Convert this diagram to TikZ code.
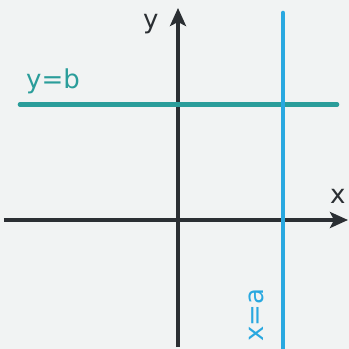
\documentclass[tikz,border=0pt]{standalone}
\usepackage{fontspec}
\setmainfont{DejaVu Sans}
\usetikzlibrary{arrows.meta}
\definecolor{bgc}{HTML}{F1F3F3}
\definecolor{axisc}{HTML}{2B2F33}
\definecolor{tealc}{HTML}{2A9D9A}
\definecolor{bluec}{HTML}{29A8E0}
\tikzset{
  axisline/.style={draw=axisc, line width=3.8pt, -{Stealth[length=18pt,width=16pt,inset=4pt]}},
  graphline/.style={line width=4.6pt, line cap=round},
  lbl/.style={inner sep=0pt, font=\fontsize{26}{30}\selectfont},
}
\begin{document}
\begin{tikzpicture}[x=1pt,y=-1pt]
\fill[bgc] (0,0) rectangle (349,349);
\useasboundingbox (0,0) rectangle (349,349);
\coordinate (xs) at (4,220);
\coordinate (xe) at (348,220);
\coordinate (ys) at (178,347);
\coordinate (ye) at (178,8);
\coordinate (bs) at (20,104.5);
\coordinate (be) at (337,104.5);
\coordinate (as) at (283,13);
\coordinate (ae) at (283,352);
\draw[axisline] (xs) -- (xe);
\draw[axisline] (ys) -- (ye);
\draw[graphline, draw=tealc] (bs) -- (be);
\draw[graphline, draw=bluec] (as) -- (ae);
\node[lbl, text=axisc, anchor=base west] (ylab) at (143,28) {y};
\node[lbl, text=axisc, anchor=base west] (xlab) at (330,203) {x};
\node[lbl, text=tealc, anchor=base west] (blab) at (26,88) {y=b};
\node[lbl, text=bluec, anchor=base west, rotate=90] (alab) at (263,342) {x=a};
\end{tikzpicture}
\end{document}
